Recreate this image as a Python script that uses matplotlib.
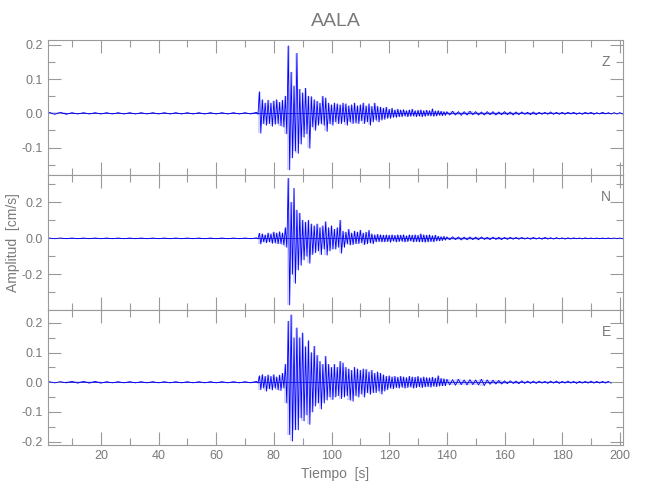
import numpy as np
import matplotlib
matplotlib.use('Agg')
import matplotlib.pyplot as plt
from matplotlib.ticker import MultipleLocator

plt.rcParams['font.family'] = ['Liberation Sans Narrow', 'Liberation Sans', 'DejaVu Sans']

# rejilla de tiempo (s): ruido previo, fase intensa, cola
t_pre = np.arange(2, 74, 4)
t_act = np.arange(74, 140, 1)
t_tail = np.arange(140, 202, 2)

# envolventes (cm/s), componente Z
z_pre_up = [0.003, 0.003, 0.002, 0.002, 0.002, 0.002, 0.002, 0.002, 0.002,
            0.002, 0.002, 0.002, 0.002, 0.002, 0.002, 0.002, 0.002, 0.002]
z_pre_lo = [-0.003, -0.003, -0.002, -0.002, -0.002, -0.002, -0.002, -0.002, -0.002,
            -0.002, -0.002, -0.002, -0.002, -0.002, -0.002, -0.002, -0.002, -0.002]
z_up = [0.003, 0.063, 0.040, 0.030, 0.038, 0.030, 0.036, 0.040, 0.032, 0.038,
        0.050, 0.197, 0.120, 0.080, 0.175, 0.070, 0.060, 0.073, 0.050, 0.049,
        0.040, 0.035, 0.030, 0.050, 0.045, 0.030, 0.025, 0.030, 0.028, 0.025,
        0.030, 0.028, 0.022, 0.025, 0.030, 0.022, 0.025, 0.030, 0.022, 0.028,
        0.020, 0.030, 0.020, 0.018, 0.015, 0.018, 0.012, 0.015, 0.010, 0.012,
        0.010, 0.011, 0.008, 0.010, 0.012, 0.008, 0.009, 0.010, 0.008, 0.009,
        0.008, 0.013, 0.007, 0.008, 0.006, 0.005]
z_lo = [-0.003, -0.058, -0.030, -0.035, -0.030, -0.038, -0.032, -0.030, -0.036, -0.040,
        -0.060, -0.165, -0.130, -0.110, -0.117, -0.090, -0.070, -0.060, -0.102, -0.040,
        -0.050, -0.035, -0.030, -0.035, -0.053, -0.030, -0.035, -0.025, -0.030, -0.030,
        -0.025, -0.035, -0.025, -0.030, -0.028, -0.030, -0.022, -0.030, -0.025, -0.035,
        -0.025, -0.020, -0.025, -0.020, -0.018, -0.015, -0.015, -0.012, -0.012, -0.010,
        -0.010, -0.008, -0.010, -0.009, -0.008, -0.010, -0.008, -0.010, -0.009, -0.007,
        -0.008, -0.009, -0.008, -0.006, -0.007, -0.006]
z_tail_up = [0.005, 0.006, 0.005, 0.005, 0.006, 0.005, 0.004, 0.005, 0.005, 0.004,
             0.005, 0.004, 0.004, 0.004, 0.003, 0.004, 0.003, 0.003, 0.004, 0.003,
             0.003, 0.003, 0.003, 0.002, 0.003, 0.003, 0.002, 0.003, 0.002, 0.002, 0.002]
z_tail_lo = [-0.005, -0.005, -0.006, -0.005, -0.004, -0.005, -0.005, -0.004, -0.005, -0.004,
             -0.004, -0.005, -0.004, -0.003, -0.004, -0.004, -0.003, -0.003, -0.003, -0.003,
             -0.003, -0.002, -0.003, -0.003, -0.002, -0.003, -0.002, -0.002, -0.002, -0.002, -0.002]

# componente N
n_pre_up = [0.002] * 18
n_pre_lo = [-0.002] * 18
n_up = [0.003, 0.028, 0.025, 0.020, 0.030, 0.025, 0.035, 0.030, 0.037, 0.030,
        0.060, 0.333, 0.200, 0.278, 0.157, 0.140, 0.100, 0.090, 0.100, 0.080,
        0.070, 0.080, 0.060, 0.070, 0.093, 0.060, 0.070, 0.050, 0.060, 0.100,
        0.040, 0.035, 0.050, 0.030, 0.040, 0.035, 0.045, 0.030, 0.035, 0.045,
        0.025, 0.020, 0.022, 0.020, 0.018, 0.020, 0.018, 0.020, 0.017, 0.020,
        0.018, 0.020, 0.015, 0.020, 0.018, 0.020, 0.017, 0.025, 0.020, 0.018,
        0.020, 0.015, 0.018, 0.012, 0.010, 0.011]
n_lo = [-0.003, -0.031, -0.020, -0.025, -0.020, -0.028, -0.025, -0.030, -0.030, -0.037,
        -0.050, -0.370, -0.200, -0.250, -0.176, -0.150, -0.120, -0.100, -0.139, -0.090,
        -0.080, -0.070, -0.090, -0.060, -0.093, -0.070, -0.060, -0.060, -0.050, -0.083,
        -0.050, -0.030, -0.037, -0.035, -0.030, -0.030, -0.025, -0.035, -0.030, -0.025,
        -0.030, -0.020, -0.018, -0.020, -0.020, -0.018, -0.022, -0.015, -0.020, -0.018,
        -0.017, -0.020, -0.018, -0.015, -0.020, -0.018, -0.020, -0.020, -0.022, -0.020,
        -0.018, -0.020, -0.015, -0.014, -0.012, -0.010]
n_tail_up = [0.008, 0.009, 0.008, 0.007, 0.008, 0.007, 0.008, 0.006, 0.007, 0.006,
             0.005, 0.006, 0.005, 0.005, 0.004, 0.005, 0.004, 0.005, 0.004, 0.004,
             0.003, 0.003, 0.003, 0.002, 0.003, 0.002, 0.002, 0.002, 0.002, 0.002, 0.002]
n_tail_lo = [-0.008, -0.007, -0.009, -0.008, -0.007, -0.008, -0.006, -0.007, -0.006, -0.007,
             -0.006, -0.005, -0.005, -0.004, -0.005, -0.004, -0.005, -0.004, -0.004, -0.003,
             -0.004, -0.003, -0.002, -0.003, -0.002, -0.002, -0.002, -0.002, -0.002, -0.002, -0.002]

# componente E
e_pre_up = [0.002, 0.002, 0.003, 0.003, 0.003, 0.002, 0.002, 0.002, 0.002,
            0.002, 0.002, 0.002, 0.002, 0.002, 0.002, 0.002, 0.002, 0.002]
e_pre_lo = [-0.002, -0.002, -0.003, -0.003, -0.003, -0.002, -0.002, -0.002, -0.002,
            -0.002, -0.002, -0.002, -0.002, -0.002, -0.002, -0.002, -0.002, -0.002]
e_up = [0.003, 0.022, 0.026, 0.020, 0.025, 0.020, 0.026, 0.018, 0.024, 0.030,
        0.060, 0.205, 0.227, 0.150, 0.183, 0.150, 0.166, 0.120, 0.140, 0.100,
        0.121, 0.090, 0.070, 0.060, 0.087, 0.060, 0.050, 0.060, 0.050, 0.070,
        0.065, 0.050, 0.045, 0.040, 0.050, 0.045, 0.040, 0.045, 0.043, 0.035,
        0.040, 0.030, 0.035, 0.030, 0.025, 0.020, 0.022, 0.018, 0.020, 0.017,
        0.020, 0.018, 0.016, 0.020, 0.018, 0.017, 0.020, 0.015, 0.018, 0.016,
        0.015, 0.017, 0.014, 0.022, 0.013, 0.012]
e_lo = [-0.003, -0.025, -0.020, -0.030, -0.022, -0.026, -0.020, -0.025, -0.028, -0.020,
        -0.070, -0.176, -0.198, -0.160, -0.160, -0.120, -0.130, -0.110, -0.142, -0.100,
        -0.080, -0.070, -0.090, -0.070, -0.060, -0.050, -0.058, -0.050, -0.045, -0.055,
        -0.050, -0.045, -0.060, -0.064, -0.045, -0.050, -0.040, -0.050, -0.035, -0.041,
        -0.035, -0.035, -0.030, -0.040, -0.030, -0.025, -0.020, -0.022, -0.018, -0.020,
        -0.017, -0.020, -0.018, -0.016, -0.020, -0.018, -0.015, -0.018, -0.016, -0.015,
        -0.017, -0.014, -0.015, -0.013, -0.012, -0.012]
e_tail_up = [0.010, 0.009, 0.010, 0.008, 0.009, 0.008, 0.010, 0.008, 0.007, 0.006,
             0.005, 0.005, 0.004, 0.005, 0.004, 0.004, 0.004, 0.003, 0.004, 0.004,
             0.003, 0.004, 0.003, 0.003, 0.003, 0.004, 0.003, 0.003, 0.003]
e_tail_lo = [-0.009, -0.010, -0.008, -0.009, -0.008, -0.009, -0.011, -0.007, -0.006, -0.006,
             -0.005, -0.004, -0.005, -0.004, -0.004, -0.004, -0.003, -0.004, -0.003, -0.004,
             -0.003, -0.003, -0.004, -0.003, -0.003, -0.003, -0.003, -0.003, -0.003]

channels = ['Z', 'N', 'E']
ylims = [(-0.18, 0.214), (-0.398, 0.352), (-0.211, 0.243)]
yticks = [[-0.1, 0.0, 0.1, 0.2], [-0.2, 0.0, 0.2], [-0.2, -0.1, 0.0, 0.1, 0.2]]
yminor = [0.05, 0.1, 0.05]
data = [
    (z_pre_up, z_pre_lo, z_up, z_lo, z_tail_up, z_tail_lo),
    (n_pre_up, n_pre_lo, n_up, n_lo, n_tail_up, n_tail_lo),
    (e_pre_up, e_pre_lo, e_up, e_lo, e_tail_up, e_tail_lo),
]

gris = '#9a9a9a'
texto = '#7a7a7a'

fig = plt.figure(figsize=(6.5, 5), dpi=100)
axes = []
top, bottom = 1 - 40 / 500, 1 - 445 / 500
h = (top - bottom) / 3
for i in range(3):
    ax = fig.add_axes([47.5 / 650, top - (i + 1) * h, (623.3 - 47.5) / 650, h])
    axes.append(ax)

for i, ax in enumerate(axes):
    pre_up, pre_lo, up, lo, tail_up, tail_lo = data[i]
    tt = [t_pre, t_act, t_tail[:len(tail_up)]]
    ups = [pre_up, up, tail_up]
    los = [pre_lo, lo, tail_lo]
    # trazo max/min alternado por ventana de tiempo
    xs, ys = [], []
    for t, u, l in zip(tt, ups, los):
        w = t[1] - t[0]
        for k in range(len(t)):
            xs += [t[k], t[k] + w / 2]
            ys += [u[k], l[k]]
    t_all = np.concatenate(tt)
    ax.fill_between(t_all, np.concatenate(los), np.concatenate(ups), step='mid',
                    color='#4040ff', alpha=0.22, lw=0)
    ax.plot(xs, ys, color='#0000ff', lw=0.6)
    ax.plot([t_all[0] - 0.5, t_all[-1]], [0, 0], color='#0000aa', lw=0.5, zorder=1)

    ax.set_xlim(1.5, 201.2)
    ax.set_ylim(*ylims[i])
    ax.set_yticks(yticks[i])
    ax.yaxis.set_minor_locator(MultipleLocator(yminor[i]))
    ax.xaxis.set_major_locator(MultipleLocator(20))
    ax.xaxis.set_minor_locator(MultipleLocator(10))
    ax.yaxis.set_major_formatter(plt.FuncFormatter(lambda v, p: '%.1f' % v))
    ax.tick_params(which='both', direction='in', top=True, right=True,
                   color=gris, labelcolor=texto, labelsize=9, width=0.8)
    ax.tick_params(which='major', length=9.5)
    ax.tick_params(which='minor', length=5)
    for s in ax.spines.values():
        s.set_color(gris)
        s.set_linewidth(0.8)
    ax.text(0.97, 0.84, channels[i], transform=ax.transAxes, ha='center',
            va='center', color=texto, fontsize=10)
    if i < 2:
        ax.tick_params(labelbottom=False)

axes[0].set_title('AALA', color=texto, fontsize=14, pad=10)
axes[2].set_xlabel('Tiempo  [s]', color=texto, fontsize=10, labelpad=4)
axes[1].set_ylabel('Amplitud  [cm/s]', color=texto, fontsize=10)
axes[1].yaxis.set_label_coords(-0.047, 0.5)

fig.savefig('out.png', dpi=100)
